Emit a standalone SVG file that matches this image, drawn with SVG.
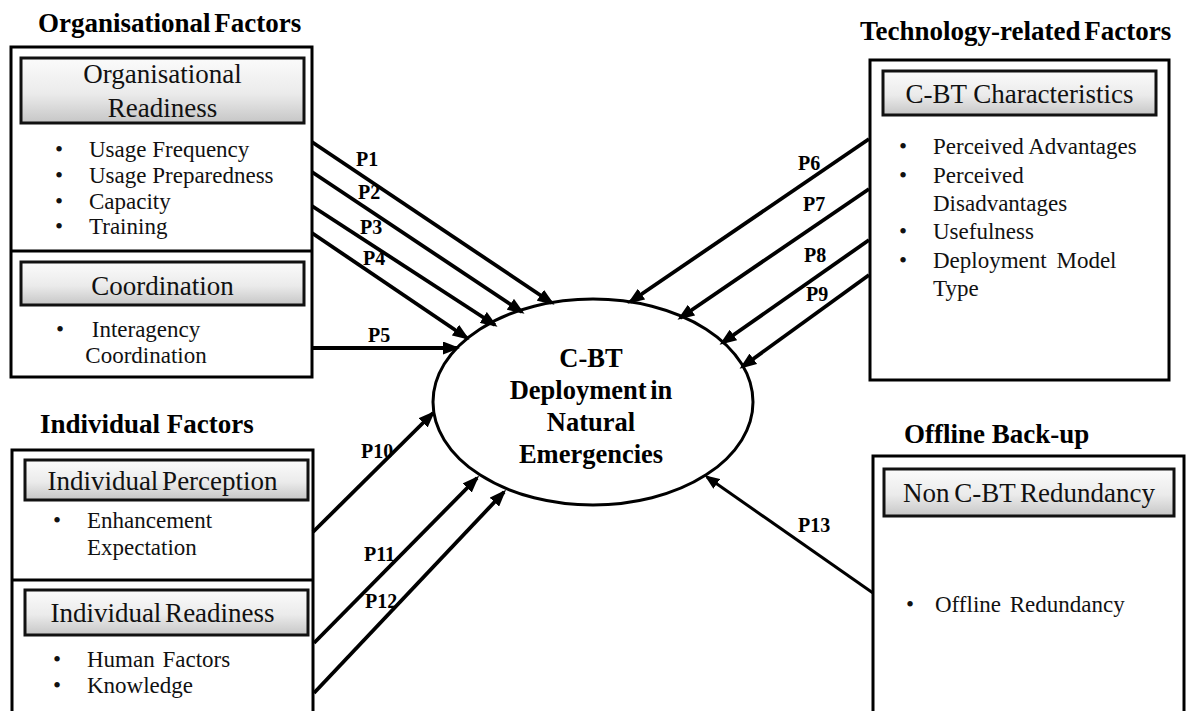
<svg xmlns="http://www.w3.org/2000/svg" width="1186" height="711" viewBox="0 0 1186 711">
<defs>
<linearGradient id="hdr" x1="0" y1="0" x2="0" y2="1">
<stop offset="0" stop-color="#fbfbfb"/>
<stop offset="0.55" stop-color="#ebebeb"/>
<stop offset="1" stop-color="#c6c6c6"/>
</linearGradient>
<marker id="ah" markerUnits="userSpaceOnUse" markerWidth="17" markerHeight="13" refX="14" refY="6.5" orient="auto">
<path d="M0,0 L17,6.5 L0,13 z" fill="#000"/>
</marker>
<marker id="ahs" markerUnits="userSpaceOnUse" markerWidth="15" markerHeight="12" refX="12" refY="6" orient="auto">
<path d="M0,0 L15,6 L0,12 z" fill="#000"/>
</marker>
<style>
.outer{fill:#fff;stroke:#000;stroke-width:3}
.hbox{fill:url(#hdr);stroke:#111;stroke-width:3}
.title{font-family:"Liberation Serif","Times New Roman",serif;font-weight:bold;font-size:27px;fill:#000}
.htxt{font-family:"Liberation Serif","Times New Roman",serif;font-size:27px;fill:#111;text-anchor:middle}
.btxt{font-family:"Liberation Serif","Times New Roman",serif;font-size:23px;fill:#111}
.bul{font-family:"Liberation Serif","Times New Roman",serif;font-size:23px;fill:#111;text-anchor:middle}
.ctxt{font-family:"Liberation Serif","Times New Roman",serif;font-weight:bold;font-size:26.5px;fill:#000;text-anchor:middle}
.lbl{font-family:"Liberation Serif","Times New Roman",serif;font-weight:bold;font-size:20px;fill:#000}
.conn{stroke:#000;stroke-width:3.8;fill:none;marker-end:url(#ah)}
.conn2{stroke:#000;stroke-width:3;fill:none;marker-end:url(#ahs)}
</style>
</defs>

<g id="organisational-factors">
<text class="title" x="38" y="32" word-spacing="-3">Organisational Factors</text>
<rect class="outer" x="11" y="47" width="301" height="330"/>
<line x1="11" y1="251" x2="312" y2="251" stroke="#000" stroke-width="3"/>
<rect class="hbox" x="21" y="58" width="283" height="65"/>
<text class="htxt" x="162.5" y="83">Organisational</text>
<text class="htxt" x="162.5" y="117">Readiness</text>
<text class="bul" x="59" y="157">•</text><text class="btxt" x="89" y="157">Usage Frequency</text>
<text class="bul" x="59" y="183">•</text><text class="btxt" x="89" y="183">Usage Preparedness</text>
<text class="bul" x="59" y="209">•</text><text class="btxt" x="89" y="209">Capacity</text>
<text class="bul" x="59" y="234">•</text><text class="btxt" x="89" y="234">Training</text>
<rect class="hbox" x="21" y="262" width="283" height="43"/>
<text class="htxt" x="162.5" y="295">Coordination</text>
<text class="bul" x="60" y="337">•</text><text class="btxt" x="146" y="337" text-anchor="middle">Interagency</text>
<text class="btxt" x="146" y="363" text-anchor="middle">Coordination</text>
</g>

<g id="technology-factors">
<text class="title" x="860" y="40" word-spacing="-3">Technology-related Factors</text>
<rect class="outer" x="870" y="60" width="299" height="320"/>
<rect class="hbox" x="883" y="71" width="273" height="44"/>
<text class="htxt" x="1019.5" y="103">C-BT Characteristics</text>
<text class="bul" x="903" y="154">•</text><text class="btxt" x="933" y="154">Perceived Advantages</text>
<text class="bul" x="903" y="183">•</text><text class="btxt" x="933" y="183">Perceived</text>
<text class="btxt" x="933" y="211">Disadvantages</text>
<text class="bul" x="903" y="239">•</text><text class="btxt" x="933" y="239">Usefulness</text>
<text class="bul" x="903" y="268">•</text><text class="btxt" x="933" y="268" word-spacing="4">Deployment Model</text>
<text class="btxt" x="933" y="296">Type</text>
</g>

<g id="individual-factors">
<text class="title" x="40" y="433">Individual Factors</text>
<rect class="outer" x="12" y="450" width="301" height="280"/>
<line x1="12" y1="580" x2="313" y2="580" stroke="#000" stroke-width="3"/>
<rect class="hbox" x="25" y="460" width="283" height="40"/>
<text class="htxt" x="162.5" y="490" word-spacing="-3">Individual Perception</text>
<text class="bul" x="57" y="528">•</text><text class="btxt" x="87" y="528">Enhancement</text>
<text class="btxt" x="87" y="555">Expectation</text>
<rect class="hbox" x="25" y="590" width="283" height="45"/>
<text class="htxt" x="162.5" y="622" word-spacing="-3">Individual Readiness</text>
<text class="bul" x="57" y="667">•</text><text class="btxt" x="87" y="667" word-spacing="2">Human Factors</text>
<text class="bul" x="57" y="693">•</text><text class="btxt" x="87" y="693">Knowledge</text>
</g>

<g id="offline-backup">
<text class="title" x="904" y="443">Offline Back-up</text>
<rect class="outer" x="873" y="456" width="311" height="280"/>
<rect class="hbox" x="884" y="469" width="290" height="47"/>
<text class="htxt" x="1029" y="502" word-spacing="-2">Non C-BT Redundancy</text>
<text class="bul" x="910" y="612">•</text><text class="btxt" x="935" y="612" word-spacing="3">Offline Redundancy</text>
</g>

<g id="cbt-deployment">
<ellipse cx="593" cy="402" rx="160" ry="103" fill="#fff" stroke="#000" stroke-width="3"/>
<text class="ctxt" x="591" y="367">C-BT</text>
<text class="ctxt" x="591" y="399" word-spacing="-3">Deployment in</text>
<text class="ctxt" x="591" y="431">Natural</text>
<text class="ctxt" x="591" y="463">Emergencies</text>
</g>

<g id="connectors">
<line class="conn" x1="312" y1="142" x2="552" y2="303"/>
<line class="conn" x1="312" y1="172" x2="522" y2="312"/>
<line class="conn" x1="312" y1="206" x2="495" y2="325"/>
<line class="conn" x1="312" y1="233" x2="467" y2="338"/>
<line class="conn" x1="312" y1="348" x2="457" y2="348"/>
<line class="conn" x1="869" y1="139" x2="630" y2="302"/>
<line class="conn" x1="869" y1="189" x2="680" y2="318"/>
<line class="conn" x1="869" y1="240" x2="722" y2="343"/>
<line class="conn" x1="869" y1="275" x2="742" y2="367"/>
<line class="conn" x1="313" y1="532" x2="433" y2="413"/>
<line class="conn" x1="314" y1="643" x2="477" y2="478"/>
<line class="conn" x1="314" y1="693" x2="504" y2="492"/>
<line class="conn2" x1="873" y1="593" x2="707" y2="477"/>
<text class="lbl" x="356" y="166">P1</text>
<text class="lbl" x="358" y="199">P2</text>
<text class="lbl" x="360" y="234">P3</text>
<text class="lbl" x="363" y="265">P4</text>
<text class="lbl" x="368" y="342">P5</text>
<text class="lbl" x="798" y="170">P6</text>
<text class="lbl" x="803" y="211">P7</text>
<text class="lbl" x="804" y="262">P8</text>
<text class="lbl" x="806" y="301">P9</text>
<text class="lbl" x="361" y="458">P10</text>
<text class="lbl" x="364" y="561">P11</text>
<text class="lbl" x="365" y="608">P12</text>
<text class="lbl" x="798" y="532">P13</text>
</g>
</svg>
